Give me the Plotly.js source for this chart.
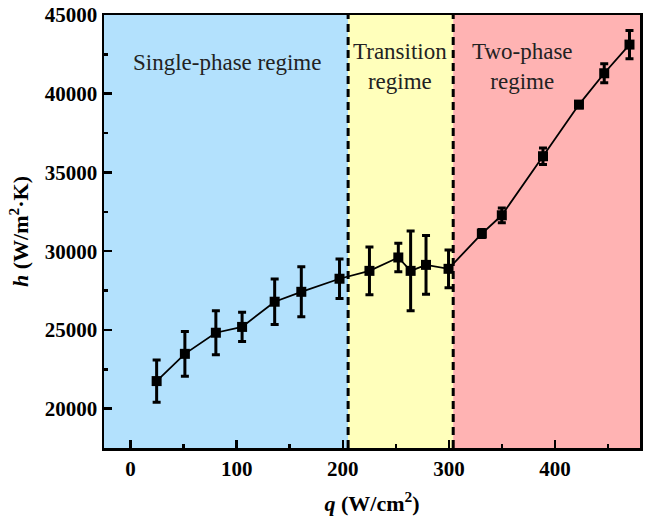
<!DOCTYPE html>
<html>
<head>
<meta charset="utf-8">
<script src="https://cdn.plot.ly/plotly-3.0.1.min.js"></script>
<style>html,body{margin:0;padding:0;background:#fff}#chart{width:648px;height:519px}</style>
</head>
<body>
<div id="chart"></div>
<script>
// Heat flux q (W/cm^2)
const q = [24.6, 51.2, 80.4, 105.1, 135.8, 160.9, 196.9, 225.1, 252.3, 263.9, 278.4, 299.6, 331.0, 349.8, 388.6, 422.5, 446.3, 470.1];
// Heat transfer coefficient h (W/m^2.K)
const h = [21750, 23480, 24820, 25190, 26790, 27420, 28250, 28750, 29600, 28750, 29130, 28880, 31120, 32280, 36030, 39310, 41300, 43120];
// Error (+/-)
const hErr = [1340, 1420, 1390, 930, 1450, 1590, 1250, 1510, 910, 2530, 1870, 1200, 250, 470, 530, 200, 610, 900];
// Regime boundaries on q axis
const regimeEdges = [-25, 205, 304, 480];
const regimeColors = ['#b3e1fd', '#ffffbb', '#ffb3b3'];
const regimeLabels = ['Single-phase regime', 'Transition<br>regime', 'Two-phase<br>regime'];
const regimeLabelQ = [91, 254, 369];
const xRange = [-25, 480];
const yRange = [17500, 45000];

const shapes = [];
for (let i = 0; i < 3; i++) {
  shapes.push({type:'rect', xref:'x', yref:'paper', x0:regimeEdges[i], x1:regimeEdges[i+1], y0:0, y1:1,
    fillcolor:regimeColors[i], line:{width:0}, layer:'below'});
}
for (let i = 1; i <= 2; i++) {
  shapes.push({type:'line', xref:'x', yref:'paper', x0:regimeEdges[i], x1:regimeEdges[i], y0:0, y1:1,
    line:{color:'#000', width:3, dash:'8px,5px'}, layer:'above'});
}

const font = 'Times New Roman, Liberation Serif, serif';
const annotations = regimeLabels.map((t, i) => ({
  text: t, x: regimeLabelQ[i], xref:'x', y: i === 0 ? 0.891 : 0.882, yref:'paper', yanchor:'middle',
  showarrow:false, font:{family:font, size:23, color:'#222'}
}));

const trace = {
  x: q, y: h, type:'scatter', mode:'lines+markers',
  line:{color:'#000', width:1.8},
  marker:{symbol:'square', size:10, color:'#000'},
  error_y:{type:'data', array:hErr, visible:true, color:'#000', thickness:3, width:4}
};

const layout = {
  width:648, height:519,
  margin:{l:104, r:8, t:15, b:71},
  paper_bgcolor:'#fff', plot_bgcolor:'#fff',
  showlegend:false,
  font:{family:font, color:'#000'},
  xaxis:{range:xRange, dtick:100, tick0:0, ticks:'inside', ticklen:8, tickwidth:2.5, tickcolor:'#000',
    showline:true, linewidth:2.5, linecolor:'#000', mirror:true, showgrid:false, zeroline:false,
    tickformat:'d',
    tickfont:{family:font, size:21, color:'#000', weight:'bold'},
    minor:{dtick:50, ticks:'inside', ticklen:4, tickwidth:2.5, tickcolor:'#000', showgrid:false},
    title:{text:'<b><i>q</i> (W/cm<sup>2</sup>)</b>', font:{family:font, size:22, color:'#000'}, standoff:16}},
  yaxis:{range:yRange, dtick:5000, tick0:0, ticks:'inside', ticklen:8, tickwidth:2.5, tickcolor:'#000',
    showline:true, linewidth:2.5, linecolor:'#000', mirror:true, showgrid:false, zeroline:false,
    tickformat:'d',
    tickfont:{family:font, size:21, color:'#000', weight:'bold'},
    minor:{dtick:2500, ticks:'inside', ticklen:4, tickwidth:2.5, tickcolor:'#000', showgrid:false},
    title:{text:'<b><i>h</i> (W/m<sup>2</sup>·K)</b>', font:{family:font, size:22, color:'#000'}, standoff:10}},
  shapes: shapes,
  annotations: annotations
};

Plotly.newPlot('chart', [trace], layout, {displayModeBar:false, staticPlot:true});
</script>
</body>
</html>
